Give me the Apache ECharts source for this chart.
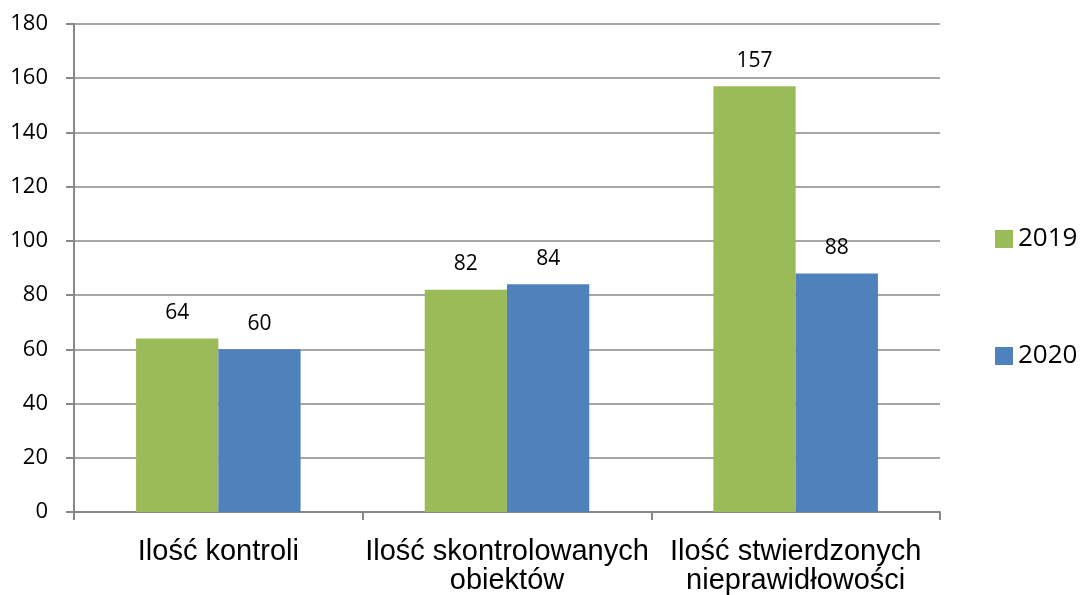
<!DOCTYPE html>
<html>
<head>
<meta charset="utf-8">
<script src="https://cdn.jsdelivr.net/npm/echarts@6/dist/echarts.min.js"></script>
<style>
  html, body { margin: 0; padding: 0; background: #fff; }
  #main { width: 1081px; height: 595px; }
</style>
</head>
<body>
<div id="main"></div>
<script>
// dane
var categories = ['Ilość kontroli', 'Ilość skontrolowanych\nobiektów', 'Ilość stwierdzonych\nnieprawidłowości'];
var values2019 = [64, 82, 157];
var values2020 = [60, 84, 88];
var yTicks = { min: 0, max: 180, interval: 20 };

var myChart = echarts.init(document.getElementById('main'));

var numFont = '"Open Sans", "Noto Sans", sans-serif';

myChart.setOption({
    animation: false,
    grid: { left: 74, right: 141, top: 24, bottom: 82 },
    legend: {
        orient: 'vertical',
        left: 990,
        top: 221,
        itemWidth: 18,
        itemHeight: 18,
        itemGap: 91,
        icon: 'rect',
        textStyle: { fontFamily: numFont, fontSize: 26, color: '#000', lineHeight: 18 },
        data: ['2019', '2020']
    },
    xAxis: {
        type: 'category',
        data: categories,
        axisLine: { lineStyle: { color: '#888', width: 2 } },
        axisTick: { show: true, interval: 0, length: 8, lineStyle: { color: '#888', width: 2 } },
        axisLabel: {
            interval: 0,
            hideOverlap: false,
            fontFamily: '"Liberation Sans", Arial, sans-serif',
            fontSize: 29, color: '#000', margin: 25, lineHeight: 29
        }
    },
    yAxis: {
        type: 'value',
        min: yTicks.min, max: yTicks.max, interval: yTicks.interval,
        axisLine: { show: true, lineStyle: { color: '#888', width: 2 } },
        axisTick: { show: true, length: 8, lineStyle: { color: '#888', width: 2 } },
        splitLine: { lineStyle: { color: '#888', width: 1.5 } },
        axisLabel: { fontFamily: numFont, fontSize: 22, color: '#000', margin: 26 }
    },
    series: [{
        name: '2019',
        type: 'bar',
        data: values2019,
        barGap: '0%',
        barCategoryGap: '43%',
        itemStyle: { color: '#9BBB59' },
        label: { show: true, position: 'top', distance: 15, fontFamily: numFont, fontSize: 21, color: '#000' }
    }, {
        name: '2020',
        type: 'bar',
        data: values2020,
        barGap: '0%',
        barCategoryGap: '43%',
        itemStyle: { color: '#4F81BD' },
        label: { show: true, position: 'top', distance: 15, fontFamily: numFont, fontSize: 21, color: '#000' }
    }]
});
</script>
</body>
</html>
